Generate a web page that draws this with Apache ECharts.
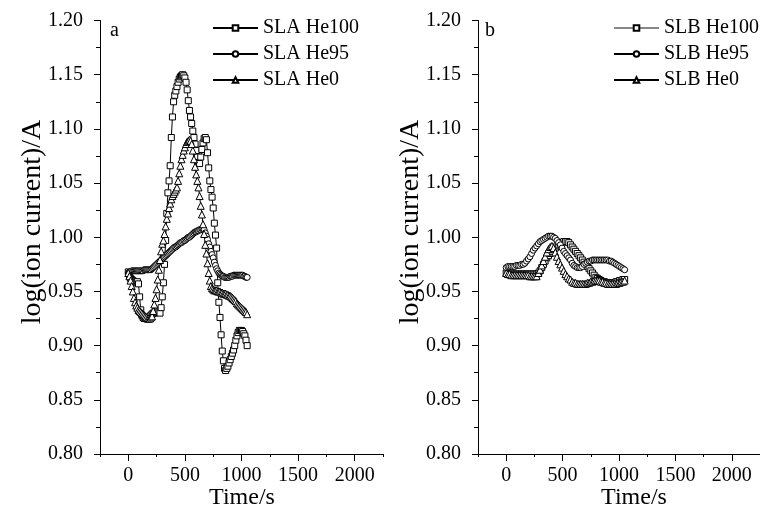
<!DOCTYPE html>
<html>
<head>
<meta charset="utf-8">
<script src="https://cdn.jsdelivr.net/npm/echarts@6/dist/echarts.min.js"></script>
<style>
html,body{margin:0;padding:0;background:#fff;}
#chart{width:760px;height:516px;}
</style>
</head>
<body>
<div id="chart"></div>
<script>
// ---- data ----
const timeA = [0,10,20,30,40,50,60,70,80,90,100,110,120,130,140,150,160,170,180,190,200,210,220,230,240,250,260,270,280,290,300,310,320,330,340,350,360,370,380,390,400,410,420,430,440,450,460,470,480,490,500,510,520,530,540,550,560,570,580,590,600,610,620,630,640,650,660,670,680,690,700,710,720,730,740,750,760,770,780,790,800,810,820,830,840,850,860,870,880,890,900,910,920,930,940,950,960,970,980,990,1000,1010,1020,1030,1040,1050];
const slaHe100 = [0.968,0.964,0.962,0.961,0.960,0.959,0.958,0.958,0.959,0.957,0.945,0.933,0.928,0.926,0.925,0.925,0.925,0.925,0.926,0.927,0.928,0.929,0.930,0.930,0.931,0.931,0.932,0.931,0.930,0.935,0.945,0.958,0.975,0.997,1.022,1.041,1.052,1.066,1.092,1.111,1.125,1.131,1.135,1.139,1.143,1.146,1.148,1.149,1.150,1.149,1.147,1.143,1.136,1.126,1.117,1.111,1.105,1.098,1.092,1.086,1.080,1.074,1.069,1.068,1.074,1.081,1.087,1.091,1.092,1.090,1.078,1.064,1.052,1.044,1.037,1.027,1.013,1.002,0.990,0.958,0.940,0.926,0.910,0.895,0.886,0.879,0.877,0.879,0.881,0.884,0.887,0.890,0.893,0.896,0.900,0.905,0.909,0.912,0.914,0.914,0.914,0.913,0.911,0.909,0.905,0.900];
const slaHe95 = [0.967,0.968,0.968,0.969,0.969,0.969,0.969,0.969,0.969,0.969,0.969,0.969,0.969,0.969,0.970,0.970,0.970,0.970,0.970,0.970,0.970,0.971,0.972,0.973,0.974,0.975,0.976,0.977,0.978,0.979,0.980,0.981,0.982,0.983,0.984,0.985,0.986,0.987,0.988,0.989,0.990,0.991,0.991,0.992,0.993,0.994,0.995,0.995,0.996,0.997,0.997,0.998,0.999,1.000,1.000,1.001,1.002,1.003,1.004,1.005,1.005,1.006,1.006,1.007,1.007,1.008,1.008,1.007,1.004,1.001,0.998,0.994,0.991,0.987,0.984,0.981,0.977,0.974,0.971,0.969,0.967,0.966,0.965,0.964,0.964,0.963,0.963,0.963,0.963,0.963,0.964,0.964,0.964,0.965,0.965,0.965,0.965,0.965,0.965,0.965,0.965,0.965,0.964,0.964,0.963,0.963];
const slaHe0 = [0.967,0.964,0.960,0.955,0.950,0.944,0.940,0.937,0.935,0.933,0.932,0.931,0.930,0.929,0.928,0.927,0.926,0.925,0.925,0.925,0.926,0.927,0.932,0.938,0.944,0.952,0.961,0.970,0.979,0.987,0.994,0.997,1.003,1.010,1.017,1.022,1.027,1.031,1.035,1.038,1.040,1.042,1.044,1.046,1.052,1.059,1.066,1.072,1.076,1.080,1.083,1.086,1.088,1.089,1.090,1.089,1.086,1.080,1.072,1.065,1.058,1.052,1.046,1.038,1.029,1.021,1.012,1.003,0.993,0.985,0.976,0.967,0.960,0.955,0.953,0.952,0.951,0.951,0.951,0.950,0.950,0.950,0.949,0.949,0.948,0.948,0.948,0.947,0.947,0.946,0.946,0.945,0.944,0.943,0.942,0.941,0.939,0.938,0.937,0.936,0.935,0.934,0.933,0.932,0.931,0.929];

const timeB = [0,15,30,45,60,75,90,105,120,135,150,165,180,195,210,225,240,255,270,285,300,315,330,345,360,375,390,405,420,435,450,465,480,495,510,525,540,555,570,585,600,615,630,645,660,675,690,705,720,735,750,765,780,795,810,825,840,855,870,885,900,915,930,945,960,975,990,1005,1020,1035,1050];
const slbHe100 = [0.967,0.966,0.966,0.966,0.966,0.966,0.966,0.966,0.966,0.966,0.966,0.966,0.966,0.966,0.966,0.966,0.966,0.966,0.966,0.967,0.969,0.972,0.975,0.978,0.981,0.983,0.985,0.987,0.989,0.990,0.992,0.993,0.994,0.995,0.996,0.996,0.996,0.995,0.993,0.991,0.989,0.987,0.985,0.983,0.981,0.979,0.977,0.975,0.973,0.971,0.969,0.967,0.965,0.963,0.962,0.961,0.960,0.959,0.959,0.958,0.958,0.958,0.958,0.958,0.958,0.959,0.959,0.960,0.960,0.961,0.961];
const slbHe95 = [0.972,0.973,0.973,0.973,0.973,0.973,0.974,0.974,0.974,0.975,0.975,0.976,0.978,0.980,0.982,0.985,0.988,0.990,0.992,0.994,0.996,0.997,0.998,0.999,1.000,1.001,1.001,1.001,1.000,0.999,0.997,0.995,0.993,0.990,0.987,0.985,0.983,0.981,0.979,0.976,0.974,0.973,0.972,0.972,0.972,0.973,0.975,0.976,0.977,0.978,0.978,0.979,0.979,0.979,0.979,0.979,0.979,0.979,0.979,0.979,0.979,0.978,0.978,0.977,0.976,0.975,0.974,0.973,0.972,0.971,0.970];
const slbHe0 = [0.967,0.966,0.966,0.965,0.965,0.965,0.965,0.965,0.965,0.965,0.965,0.965,0.965,0.965,0.964,0.964,0.964,0.964,0.964,0.967,0.970,0.974,0.978,0.982,0.986,0.989,0.991,0.992,0.990,0.986,0.982,0.978,0.975,0.972,0.969,0.966,0.964,0.962,0.961,0.959,0.958,0.958,0.957,0.957,0.957,0.957,0.957,0.957,0.958,0.958,0.959,0.959,0.960,0.960,0.960,0.960,0.959,0.959,0.958,0.958,0.957,0.957,0.957,0.957,0.957,0.957,0.958,0.958,0.959,0.959,0.960];

const xTickLabels = [0, 500, 1000, 1500, 2000];
const seriesNamesA = ['SLA He100', 'SLA He95', 'SLA He0'];
const seriesNamesB = ['SLB He100', 'SLB He95', 'SLB He0'];

// ---- chart ----
const FONT = '"Liberation Serif","Times New Roman",serif';
const zip = (t, v) => t.map((x, i) => [x, v[i]]);

function xMain(grid) {
  return {
    type: 'value', gridIndex: grid, min: -250, max: 2250, interval: 250,
    axisLine: {show: true, onZero: false, lineStyle: {color: '#000', width: 1}},
    axisTick: {show: true, length: 3, lineStyle: {color: '#000'}},
    axisLabel: {customValues: xTickLabels, formatter: v => String(v), fontSize: 20, fontFamily: FONT, color: '#000', margin: 12},
    splitLine: {show: false}
  };
}
function xMajor(grid) {
  return {
    type: 'value', gridIndex: grid, min: -250, max: 2250, interval: 250, position: 'bottom',
    axisLine: {show: false},
    axisTick: {show: true, customValues: xTickLabels, length: 7, lineStyle: {color: '#000'}},
    axisLabel: {show: false},
    splitLine: {show: false}
  };
}
function yAx(grid) {
  return {
    type: 'value', gridIndex: grid, min: 0.8, max: 1.2, interval: 0.05,
    axisLine: {show: true, onZero: false, lineStyle: {color: '#000', width: 1}},
    axisTick: {show: true, length: 6, lineStyle: {color: '#000'}},
    minorTick: {show: true, splitNumber: 2, length: 4, lineStyle: {color: '#000'}},
    axisLabel: {formatter: v => v.toFixed(2), fontSize: 20, fontFamily: FONT, color: '#000', margin: 17},
    splitLine: {show: false}
  };
}
function ser(name, t, v, sym, size, xi, yi, lineColor) {
  return {
    name, type: 'line', xAxisIndex: xi, yAxisIndex: yi, data: zip(t, v),
    symbol: sym, symbolSize: size, showSymbol: true, showAllSymbol: true,
    itemStyle: {color: '#fff', borderColor: '#000', borderWidth: 1},
    lineStyle: {color: lineColor || '#000', width: 1},
    emphasis: {disabled: true}, animation: false
  };
}
function legend(names, left, top) {
  return {
    data: names, orient: 'vertical', left, top, padding: 0, itemWidth: 45, itemHeight: 7, itemGap: 6,
    selectedMode: false,
    textStyle: {fontSize: 20, fontFamily: FONT, color: '#000', lineHeight: 19}
  };
}

const chart = echarts.init(document.getElementById('chart'), null, {renderer: 'canvas'});
chart.setOption({
  animation: false,
  backgroundColor: '#fff',
  grid: [
    {left: 100, top: 20.5, width: 283, height: 433.5, outerBoundsMode: 'none', containLabel: false},
    {left: 478, top: 20.5, width: 282, height: 433.5, outerBoundsMode: 'none', containLabel: false}
  ],
  xAxis: [xMain(0), xMain(1), xMajor(0), xMajor(1)],
  yAxis: [yAx(0), yAx(1)],
  legend: [legend(seriesNamesA, 212, 18), legend(seriesNamesB, 613, 18)],
  series: [
    ser(seriesNamesA[0], timeA, slaHe100, 'rect', 6, 0, 0),
    ser(seriesNamesA[1], timeA, slaHe95, 'circle', 6, 0, 0),
    ser(seriesNamesA[2], timeA, slaHe0, 'triangle', 7, 0, 0),
    ser(seriesNamesB[0], timeB, slbHe100, 'rect', 6, 1, 1, '#888'),
    ser(seriesNamesB[1], timeB, slbHe95, 'circle', 6, 1, 1),
    ser(seriesNamesB[2], timeB, slbHe0, 'triangle', 7, 1, 1)
  ],
  graphic: [
    {type: 'text', x: 110, y: 21, style: {text: 'a', font: '20px ' + FONT, fill: '#000'}},
    {type: 'text', x: 485, y: 21, style: {text: 'b', font: '20px ' + FONT, fill: '#000'}},
    {type: 'text', x: 33, y: 222, rotation: Math.PI / 2,
     style: {text: 'log(ion current)/A', font: '28px ' + FONT, fill: '#000', align: 'center', verticalAlign: 'middle', textAlign: 'center', textVerticalAlign: 'middle'}},
    {type: 'text', x: 411, y: 222, rotation: Math.PI / 2,
     style: {text: 'log(ion current)/A', font: '28px ' + FONT, fill: '#000', align: 'center', verticalAlign: 'middle', textAlign: 'center', textVerticalAlign: 'middle'}},
    {type: 'text', x: 242, y: 498,
     style: {text: 'Time/s', font: '24px ' + FONT, fill: '#000', align: 'center', verticalAlign: 'middle', textAlign: 'center', textVerticalAlign: 'middle'}},
    {type: 'text', x: 634, y: 498,
     style: {text: 'Time/s', font: '24px ' + FONT, fill: '#000', align: 'center', verticalAlign: 'middle', textAlign: 'center', textVerticalAlign: 'middle'}}
  ]
});
</script>
</body>
</html>
